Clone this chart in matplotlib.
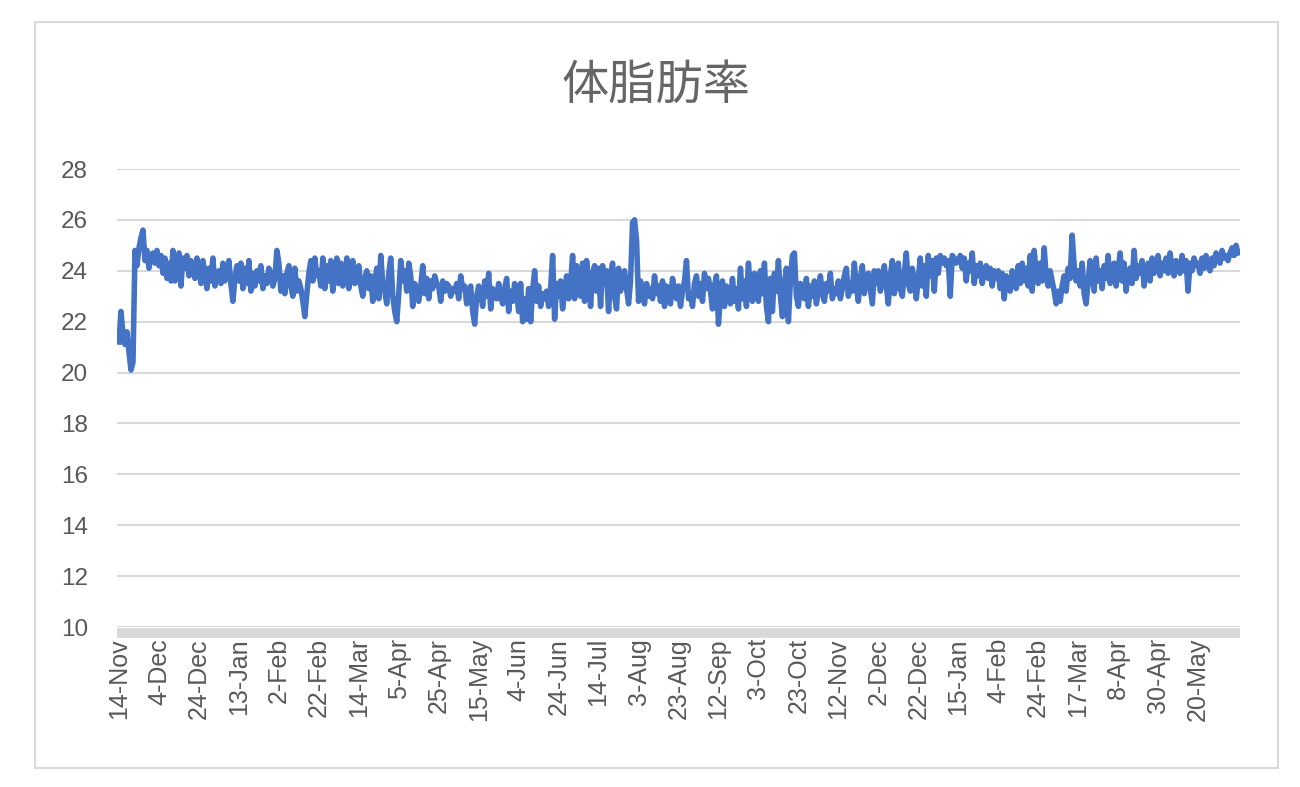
import numpy as np
import matplotlib.pyplot as plt
from matplotlib.patches import Rectangle

# x-axis category labels (one every 20 readings)
tick_labels = ['14-Nov', '4-Dec', '24-Dec', '13-Jan', '2-Feb', '22-Feb', '14-Mar',
               '5-Apr', '25-Apr', '15-May', '4-Jun', '24-Jun', '14-Jul', '3-Aug',
               '23-Aug', '12-Sep', '3-Oct', '23-Oct', '12-Nov', '2-Dec', '22-Dec',
               '15-Jan', '4-Feb', '24-Feb', '17-Mar', '8-Apr', '30-Apr', '20-May']
tick_step = 20

# body fat readings, grouped by the label interval they fall in
fat_blocks = [
    [21.2, 22.4, 21.5, 21.1, 21.6, 20.8, 20.1, 20.4, 24.8, 24.2, 24.9, 25.3, 25.6, 24.4, 24.8, 24.1, 24.6, 24.7, 24.3, 24.8],
    [24.2, 24.6, 23.9, 24.5, 23.7, 24.3, 23.6, 24.8, 23.6, 24.4, 24.7, 23.4, 24.5, 24.1, 24.6, 23.8, 24.4, 24.0, 23.7, 24.5],
    [24.2, 23.5, 24.4, 23.9, 23.3, 24.1, 23.6, 24.5, 23.4, 23.9, 24.0, 23.5, 24.3, 23.6, 23.9, 24.4, 23.5, 22.8, 23.7, 24.2],
    [23.6, 24.3, 23.3, 24.1, 23.5, 24.4, 23.2, 23.9, 23.4, 24.0, 23.6, 24.2, 23.3, 23.8, 23.5, 24.1, 23.9, 23.4, 23.7, 24.8],
    [24.3, 23.2, 23.8, 23.1, 23.9, 24.2, 23.4, 23.0, 24.1, 23.2, 23.6, 23.3, 22.8, 22.2, 23.1, 23.9, 24.4, 23.6, 24.5, 23.8],
    [24.0, 23.4, 24.5, 23.3, 24.2, 23.6, 24.4, 23.2, 23.8, 24.5, 23.5, 24.3, 23.4, 23.7, 24.5, 23.3, 23.9, 24.4, 23.5, 23.6],
    [24.2, 23.4, 23.0, 23.7, 24.0, 23.3, 23.8, 22.8, 23.5, 24.1, 22.9, 24.6, 23.5, 23.2, 22.7, 23.9, 24.5, 23.0, 22.4, 22.0],
    [23.1, 24.4, 23.6, 24.0, 23.2, 24.3, 23.8, 22.6, 23.5, 23.0, 22.8, 23.4, 24.2, 23.1, 23.7, 22.9, 23.6, 23.3, 23.8, 23.5],
    [23.4, 22.8, 23.6, 23.2, 23.5, 23.4, 23.0, 23.3, 23.2, 23.5, 22.9, 23.8, 23.3, 23.4, 22.7, 23.1, 23.4, 22.4, 21.9, 23.0],
    [23.4, 23.1, 22.6, 23.6, 23.0, 23.9, 22.5, 23.3, 23.1, 22.9, 23.5, 23.0, 22.7, 23.3, 23.7, 22.4, 23.2, 22.8, 23.5, 23.2],
    [22.4, 23.5, 22.0, 22.9, 22.1, 23.3, 22.0, 23.2, 24.0, 22.8, 23.4, 22.6, 23.1, 22.9, 23.2, 22.6, 23.3, 24.6, 22.1, 23.5],
    [23.0, 23.6, 22.5, 23.2, 23.8, 22.9, 23.5, 24.6, 22.9, 24.2, 23.3, 23.0, 24.3, 22.8, 24.4, 23.6, 22.6, 23.9, 24.2, 23.2],
    [24.1, 22.6, 24.2, 23.5, 24.0, 22.4, 23.8, 24.3, 23.0, 22.5, 24.1, 23.2, 23.8, 24.0, 23.3, 22.7, 23.6, 25.9, 26.0, 25.2],
    [22.8, 23.6, 23.1, 22.7, 23.5, 23.0, 23.3, 22.9, 23.8, 23.1, 23.4, 22.8, 23.6, 22.6, 23.4, 23.0, 22.7, 23.7, 23.2, 22.9],
    [23.4, 22.6, 23.2, 23.6, 24.4, 22.9, 23.1, 22.6, 23.5, 23.8, 23.0, 23.5, 22.8, 23.9, 23.3, 23.7, 23.2, 22.5, 23.4, 23.8],
    [21.9, 23.0, 23.6, 22.6, 23.4, 23.1, 22.7, 23.7, 22.8, 23.3, 22.5, 24.1, 22.9, 23.6, 22.6, 24.3, 23.2, 22.8, 23.9, 23.4],
    [22.8, 24.0, 23.1, 24.3, 22.6, 22.0, 23.7, 22.4, 23.9, 23.2, 24.4, 23.0, 22.2, 23.5, 24.1, 22.0, 23.6, 24.6, 24.7, 23.0],
    [22.6, 23.5, 23.2, 22.9, 23.7, 22.6, 23.4, 23.0, 23.6, 22.7, 23.2, 23.8, 23.1, 22.8, 23.5, 23.2, 23.9, 22.9, 23.3, 23.1],
    [23.6, 22.9, 23.3, 23.8, 24.1, 23.0, 23.5, 23.2, 24.3, 23.4, 22.8, 23.7, 24.2, 23.1, 23.6, 23.9, 23.3, 22.7, 24.0, 23.5],
    [24.0, 23.2, 23.6, 24.2, 23.4, 22.7, 23.8, 24.4, 23.1, 23.5, 24.3, 23.3, 23.0, 23.9, 24.7, 23.5, 23.2, 24.1, 23.6, 22.9],
    [23.7, 24.5, 23.4, 24.2, 23.0, 24.6, 23.8, 24.4, 23.2, 24.5, 23.9, 24.6, 24.3, 24.5, 24.2, 24.4, 23.0, 24.6, 24.5, 24.3],
    [24.4, 24.6, 24.1, 24.5, 23.6, 24.3, 24.0, 24.7, 23.5, 24.2, 23.8, 24.3, 23.5, 24.0, 24.2, 23.7, 24.1, 23.4, 24.0, 23.7],
    [24.0, 23.3, 23.9, 22.9, 23.8, 23.6, 23.2, 24.0, 23.7, 23.3, 24.2, 23.5, 24.3, 23.6, 24.1, 23.4, 24.6, 23.2, 24.8, 23.9],
    [23.5, 24.3, 23.6, 24.9, 23.8, 23.4, 24.0, 23.6, 23.2, 22.7, 23.2, 22.8, 23.4, 23.8, 23.2, 24.1, 23.7, 25.4, 24.2, 23.6],
    [24.0, 23.4, 24.3, 23.1, 22.7, 23.6, 24.4, 23.8, 23.2, 24.5, 23.6, 24.0, 23.3, 24.2, 23.7, 24.6, 23.5, 23.9, 24.3, 23.4],
    [24.0, 24.7, 23.6, 24.3, 23.2, 23.9, 24.1, 23.5, 24.8, 23.7, 24.2, 23.9, 24.4, 23.4, 24.0, 24.3, 23.6, 24.5, 23.9, 24.2],
    [24.6, 23.8, 24.3, 24.0, 24.5, 23.9, 24.7, 24.1, 23.8, 24.4, 24.2, 23.9, 24.6, 24.0, 24.4, 23.2, 24.3, 24.0, 24.5, 24.2],
    [24.3, 23.9, 24.5, 24.1, 24.6, 24.2, 24.0, 24.5, 24.2, 24.7, 24.4, 24.3, 24.8, 24.5, 24.6, 24.4, 24.7, 24.9, 24.6, 25.0, 24.7],
]
fat = np.concatenate([np.array(b) for b in fat_blocks])
x = np.arange(len(fat))

plt.rcParams['font.family'] = ['Liberation Sans', 'Noto Sans CJK JP']
txt_color = '#595959'
grid_color = '#d9d9d9'

fig = plt.figure(figsize=(13, 7.87), dpi=100)
# outer chart border
fig.patches.append(Rectangle((35 / 1300, 1 - 768 / 787), (1278 - 35) / 1300, (768 - 22) / 787,
                             transform=fig.transFigure, fill=False, edgecolor=grid_color, lw=1.5))

ax = fig.add_axes([117 / 1300, 1 - 627 / 787, (1240 - 117) / 1300, (627 - 169) / 787])
ax.plot(x, fat, color='#4472C4', linewidth=4, solid_joinstyle='round')

for s in ['top', 'right', 'left']:
    ax.spines[s].set_visible(False)
ax.spines['bottom'].set_color(grid_color)
ax.spines['bottom'].set_linewidth(7)
ax.spines['bottom'].set_position(('outward', 4))
ax.spines['bottom'].set_capstyle('butt')

ax.set_xlim(-1, len(fat))
ax.set_ylim(10, 28)
ax.set_yticks(np.arange(10, 29, 2))
ax.set_xticks(np.arange(0, len(fat), tick_step)[:len(tick_labels)])
ax.set_xticklabels(tick_labels)
ax.tick_params(axis='y', length=0, pad=21, labelsize=17.5, labelcolor=txt_color)
ax.tick_params(axis='x', length=0, pad=4, labelsize=18, labelcolor=txt_color, labelrotation=90)

ax.grid(axis='y', color=grid_color, linewidth=1.5)
ax.set_axisbelow(True)

fig.text(656 / 1300, 1 - 86 / 787, '体脂肪率', ha='center', va='center', fontsize=34,
         color='#666666', family=['Noto Sans CJK JP', 'DejaVu Sans'])

fig.savefig('out.png', dpi=100)
